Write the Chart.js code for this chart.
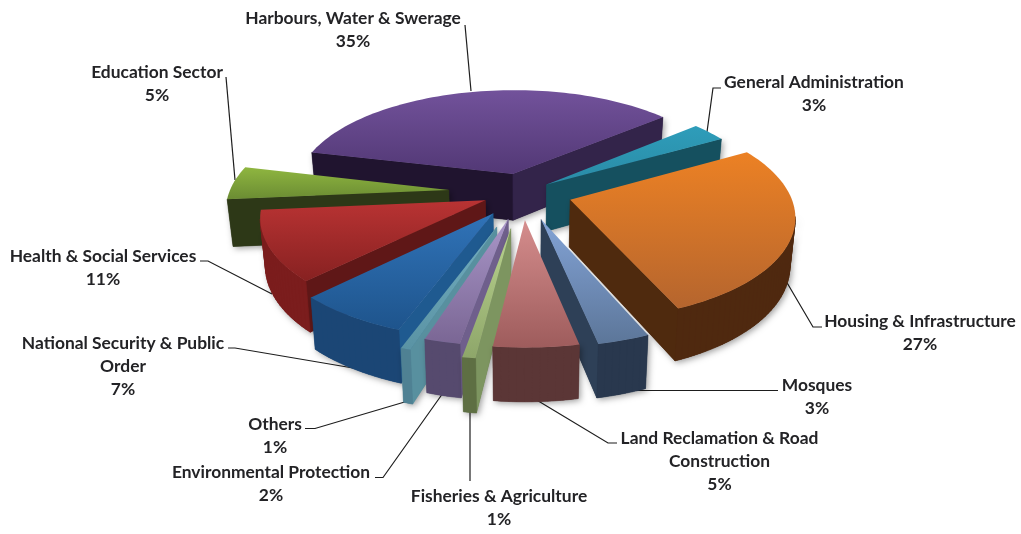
<!DOCTYPE html>
<html><head><meta charset="utf-8">
<style>html,body{margin:0;padding:0;background:#fff}canvas{display:block}</style>
<script src="https://cdn.jsdelivr.net/npm/chart.js@4"></script></head>
<body><canvas id="c" width="1021" height="534" style="width:1021px;height:534px"></canvas>
<script>
const categories=[["Harbours, Water & Swerage"],["General Administration"],["Housing & Infrastructure"],["Mosques"],["Land Reclamation & Road","Construction"],["Fisheries & Agriculture"],["Environmental Protection"],["Others"],["National Security & Public","Order"],["Health & Social Services"],["Education Sector"]];
const shares=[35,3,26.8,3.2,5.2,0.8,2.2,0.6,7,11,5.2];
const percentLabels=["35%","3%","27%","3%","5%","1%","2%","1%","7%","11%","5%"];
const sliceOffsets=[43.7,30.9,51.6,62.1,60.3,78.9,59.6,78.7,55,42.1,76.9];
const topLight=["#72529b","#2e9dba","#ec8124","#83a3d6","#d58d8d","#b9d38e","#a996c8","#72adbe","#3073b8","#b93333","#8fb640"];
const topDark=["#523875","#2a8ba6","#b5652e","#5c7699","#9e5c5c","#8ea66a","#7a6694","#5a93a4","#1e548c","#872121","#6b8c33"];
const startWall=["#20142f","#15505f","#54300f","#2e4057","#5b3636","#7d9560","#6f5f8c","#58909f","#1f5a90","#5f1717","#2d3817"];
const endWall=["#33244a","#15505f","#4f2a0e","#2e4057","#5b3636","#5e6f43","#564a6e","#4f8193","#1b4675","#5f1717","#2d3817"];
const rimWall=["#1f1530","#144a58","#4f290f","#29384e","#5b3636","#5e6f43","#564a6e","#4f8193","#1b4675","#7b1d1d","#2d3817"];
const labelCentres=[[353,18],[814,82],[920,321],[817,385],[719.5,438],[499,496],[271,472],[275,424],[123,343],[103,256],[157,72]];
const leaders=[[[471,91],[465,25]],[[707,132],[713,88],[721,88]],[[786,281],[813,327],[822,327]],[[628,390.5],[778,390.5]],[[535,399],[608,443],[617,443]],[[470,410],[470,481]],[[443,393],[383,477.5],[375,477.5]],[[408,401],[315,428.5],[305,428.5]],[[353,368],[235,348],[228,348]],[[272,294],[208,261],[200,261]],[[235,180],[226,77]]];
const CX=522.5,CY=192.4,RX=219.5,RY=100.7,PERSP=0.142,DEPTH=47,FLOOR=0.98;
function project(u,v){const s=1/(1-PERSP*v);return {x:CX+RX*u*s,y:CY+RY*v*s,s};}
function below(p){return {x:CX+(p.x-CX)*FLOOR,y:CY+(p.y-CY)*FLOOR+DEPTH*p.s};}
function outline(arc,off){const r=arc.outerRadius,o=off/r,mid=(arc.startAngle+arc.endAngle)/2,ox=o*Math.cos(mid),oy=o*Math.sin(mid);
 const pts=[project(ox,oy)],n=Math.max(2,Math.ceil((arc.endAngle-arc.startAngle)/0.03));
 for(let i=0;i<=n;i++){const t=arc.startAngle+(arc.endAngle-arc.startAngle)*i/n;pts.push(project(ox+Math.cos(t),oy+Math.sin(t)));}
 return {pts,depth:Math.sin(mid)};}
function quad(c,a,b){const a2=below(a),b2=below(b);c.moveTo(a.x,a.y);c.lineTo(b.x,b.y);c.lineTo(b2.x,b2.y);c.lineTo(a2.x,a2.y);c.closePath();}
const pie3d={id:'pie3d',
 beforeDatasetsDraw(chart){
  const ctx=chart.ctx,arcs=chart.getDatasetMeta(0).data;
  ctx.save();
  ctx.strokeStyle='#1d1d1d';ctx.lineWidth=1.2;
  for(const L of leaders){ctx.beginPath();L.forEach((p,k)=>k?ctx.lineTo(p[0],p[1]):ctx.moveTo(p[0],p[1]));ctx.stroke();}
  const slices=arcs.map((arc,i)=>({i,...outline(arc,arc.options.offset)})).sort((a,b)=>a.depth-b.depth);
  for(const sl of slices){const {i,pts}=sl,N=pts.length;
   const edges=[];for(let k=0;k<N;k++){const a=pts[k],b=pts[(k+1)%N];if(b.x<a.x)edges.push({a,b,kind:k===0?'s':k===N-1?'e':'r'});}
   ctx.save();ctx.shadowColor='rgba(0,0,0,0.38)';ctx.shadowBlur=6;ctx.shadowOffsetX=2;ctx.shadowOffsetY=2;ctx.fillStyle=rimWall[i];
   ctx.beginPath();for(const e of edges)quad(ctx,e.a,e.b);ctx.fill();ctx.restore();
   for(const kind of ['s','e','r']){const col=kind==='s'?startWall[i]:kind==='e'?endWall[i]:rimWall[i];
    ctx.fillStyle=col;ctx.strokeStyle=col;ctx.lineWidth=0.6;ctx.beginPath();
    for(const e of edges)if(e.kind===kind)quad(ctx,e.a,e.b);ctx.fill();ctx.stroke();}
   const ys=pts.map(p=>p.y),g=ctx.createLinearGradient(0,Math.min(...ys),0,Math.max(...ys));
   g.addColorStop(0,topLight[i]);g.addColorStop(1,topDark[i]);
   ctx.fillStyle=g;ctx.beginPath();pts.forEach((p,k)=>k?ctx.lineTo(p.x,p.y):ctx.moveTo(p.x,p.y));ctx.closePath();ctx.fill();
  }
  ctx.fillStyle='#232326';ctx.font='700 17.4px Lato';ctx.textAlign='center';ctx.textBaseline='middle';
  categories.forEach((lines,i)=>{const [x,y]=labelCentres[i];const all=[...lines,percentLabels[i]];all.forEach((t,k)=>ctx.fillText(t,x,y+k*23));});
  ctx.restore();
  return false;
 }};
new Chart(document.getElementById('c'),{type:'pie',
 data:{labels:categories.map(l=>l.join(' ')),datasets:[{data:shares,offset:sliceOffsets,backgroundColor:topLight,borderWidth:0}]},
 options:{responsive:false,animation:false,rotation:-76.5,layout:{padding:0},plugins:{legend:{display:false},tooltip:{enabled:false},title:{display:false}}},
 plugins:[pie3d]});
</script></body></html>
